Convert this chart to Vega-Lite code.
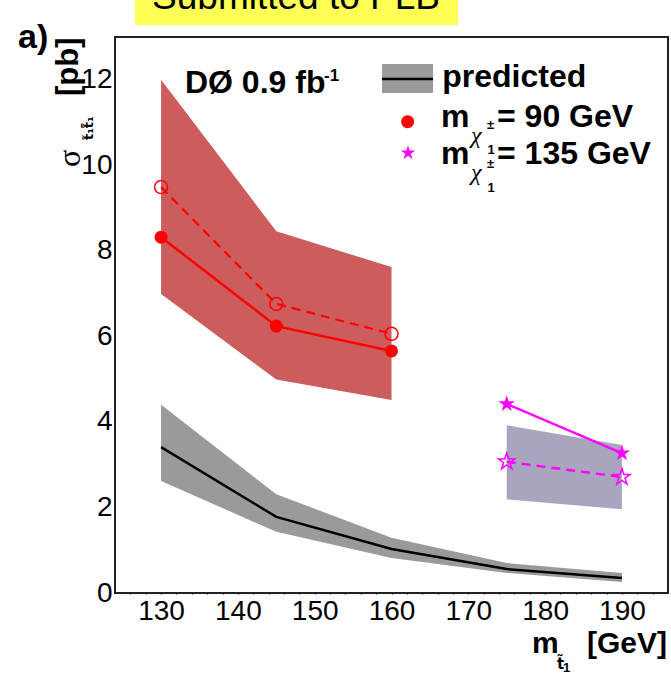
{
  "$schema": "https://vega.github.io/schema/vega-lite/v6.json",
  "width": 553,
  "height": 556,
  "autosize": {"type": "none"},
  "padding": {"left": 115, "top": 37, "right": 3, "bottom": 84},
  "background": "white",
  "config": {"view": {"stroke": "#222222", "strokeWidth": 2}, "font": "Liberation Sans"},
  "resolve": {"axis": {"x": "independent", "y": "independent"}},
  "datasets": {
    "series": [
      {"s": "pred", "x": 130, "a": 3.41, "lo": 2.62, "hi": 4.40},
      {"s": "pred", "x": 145, "a": 1.78, "lo": 1.43, "hi": 2.31},
      {"s": "pred", "x": 160, "a": 1.03, "lo": 0.82, "hi": 1.29},
      {"s": "pred", "x": 175, "a": 0.56, "lo": 0.47, "hi": 0.70},
      {"s": "pred", "x": 190, "a": 0.35, "lo": 0.26, "hi": 0.47},
      {"s": "c90", "x": 130, "a": 8.32, "b": 9.49, "lo": 6.99, "hi": 12.0},
      {"s": "c90", "x": 145, "a": 6.24, "b": 6.76, "lo": 4.99, "hi": 8.46},
      {"s": "c90", "x": 160, "a": 5.66, "b": 6.06, "lo": 4.51, "hi": 7.62},
      {"s": "c135", "x": 175, "a": 4.42, "b": 3.07, "lo": 2.19, "hi": 3.92},
      {"s": "c135", "x": 190, "a": 3.27, "b": 2.71, "lo": 1.96, "hi": 3.46}
    ],
    "legend": [
      {"item": "box", "x": 158.77, "x2": 165.41, "y": 11.69, "y2": 12.37},
      {"item": "line", "x": 158.77, "x2": 165.41, "y": 12.02},
      {"item": "c90", "x": 162.1, "y": 11.02},
      {"item": "c135", "x": 162.15, "y": 10.29},
      {"item": "stamp", "x": 126.6, "x2": 168.66, "y": 13.28, "y2": 14.6}
    ],
    "notes": [
      {"role": "big", "t": "predicted", "x": 166.6, "y": 11.83},
      {"role": "big", "t": "m", "x": 166.45, "y": 10.90},
      {"role": "big", "t": "m", "x": 166.45, "y": 10.03},
      {"role": "big", "t": "= 90 GeV", "x": 173.74, "y": 10.90},
      {"role": "big", "t": "= 135 GeV", "x": 173.74, "y": 10.03},
      {"role": "big", "t": "DØ 0.9 fb", "x": 133.11, "y": 11.69},
      {"role": "xtl", "t": "m", "x": 178.3, "y": -1.40},
      {"role": "xtr", "t": "[GeV]", "x": 195.875, "y": -1.40},
      {"role": "chi", "t": "χ", "x": 170.35, "y": 10.52},
      {"role": "chi", "t": "χ", "x": 170.35, "y": 9.66},
      {"role": "small", "t": "±", "x": 172.44, "y": 10.85},
      {"role": "small", "t": "±", "x": 172.44, "y": 9.94},
      {"role": "small", "t": "1", "x": 172.5, "y": 10.26},
      {"role": "small", "t": "1", "x": 172.5, "y": 9.38},
      {"role": "small", "t": "1", "x": 182.33, "y": -1.85},
      {"role": "sup", "t": "-1", "x": 151.21, "y": 11.97},
      {"role": "sub", "t": "t̃", "x": 181.55, "y": -1.78},
      {"role": "ytitle", "t": "[pb]", "x": 119.18, "y": 11.62},
      {"role": "ysigma", "t": "σ", "x": 119.44, "y": 9.96},
      {"role": "ysub", "t": "t̃₁t̃̄₁", "x": 121.14, "y": 10.59},
      {"role": "panel", "t": "a)", "x": 111.37, "y": 12.74},
      {"role": "stamp", "t": "Submitted to PLB", "x": 147.57, "y": 13.66}
    ]
  },
  "layer": [
    {
      "data": {"name": "series"},
      "transform": [{"filter": "datum.s === 'c90'"}],
      "mark": {"type": "area", "color": "#cd5c5c", "opacity": 1},
      "encoding": {
        "x": {"field": "x", "type": "quantitative", "scale": {"domain": [124, 196], "nice": false, "zero": false},
          "axis": {"orient": "bottom", "values": [130, 140, 150, 160, 170, 180, 190],
            "tickSize": 1,
            "encode": {"ticks": {"update": {"y2": {"value": -16}}}},
            "tickWidth": 1.5, "tickColor": "#222222", "domain": false, "grid": false, "labelFontSize": 28, "labelFont": "Liberation Sans", "labelColor": "black", "labelPadding": 3, "labelFlush": false, "labelOverlap": false, "title": null}},
        "y": {"field": "lo", "type": "quantitative", "scale": {"domain": [0, 13], "nice": false, "zero": false},
          "axis": {"orient": "left", "values": [0, 2, 4, 6, 8, 10, 12],
            "tickSize": 1,
            "encode": {"ticks": {"update": {"x2": {"value": 16}}}},
            "tickWidth": 1.5, "tickColor": "#222222", "domain": false, "grid": false, "labelFontSize": 28, "labelFont": "Liberation Sans", "labelColor": "black", "labelPadding": 2, "labelFlush": false, "labelOverlap": false, "title": null}},
        "y2": {"field": "hi"}
      }
    },
    {
      "data": {"name": "series"},
      "transform": [{"filter": "datum.s === 'c135'"}],
      "mark": {"type": "area", "color": "#a9a5bf", "opacity": 1},
      "encoding": {
        "x": {"field": "x", "type": "quantitative", "scale": {"domain": [124, 196], "nice": false, "zero": false},
          "axis": {"orient": "bottom", "values": [126, 128, 132, 134, 136, 138, 142, 144, 146, 148, 152, 154, 156, 158, 162, 164, 166, 168, 172, 174, 176, 178, 182, 184, 186, 188, 192, 194],
            "tickSize": 1,
            "encode": {"ticks": {"update": {"y2": {"value": -8}}}},
            "tickWidth": 1.5, "tickColor": "#222222", "labels": false, "domain": false, "grid": false, "title": null}},
        "y": {"field": "lo", "type": "quantitative", "scale": {"domain": [0, 13], "nice": false, "zero": false},
          "axis": {"orient": "left", "values": [0.5, 1, 1.5, 2.5, 3, 3.5, 4.5, 5, 5.5, 6.5, 7, 7.5, 8.5, 9, 9.5, 10.5, 11, 11.5, 12.5],
            "tickSize": 1,
            "encode": {"ticks": {"update": {"x2": {"value": 8}}}},
            "tickWidth": 1.5, "tickColor": "#222222", "labels": false, "domain": false, "grid": false, "title": null}},
        "y2": {"field": "hi"}
      }
    },
    {
      "data": {"name": "series"},
      "transform": [{"filter": "datum.s === 'pred'"}],
      "mark": {"type": "area", "color": "#9a9a9a", "opacity": 1},
      "encoding": {
        "x": {"field": "x", "type": "quantitative", "scale": {"domain": [124, 196], "nice": false, "zero": false}, "axis": null},
        "y": {"field": "lo", "type": "quantitative", "scale": {"domain": [0, 13], "nice": false, "zero": false}, "axis": null},
        "y2": {"field": "hi"}
      }
    },
    {
      "data": {"name": "series"},
      "transform": [{"filter": "datum.s === 'pred'"}],
      "mark": {"type": "line", "color": "black", "strokeWidth": 2.5},
      "encoding": {
        "x": {"field": "x", "type": "quantitative", "scale": {"domain": [124, 196], "nice": false, "zero": false}, "axis": null},
        "y": {"field": "a", "type": "quantitative", "scale": {"domain": [0, 13], "nice": false, "zero": false}, "axis": null}
      }
    },
    {
      "data": {"name": "series"},
      "transform": [{"filter": "datum.s === 'c90'"}],
      "mark": {"type": "line", "color": "#ff0000", "strokeWidth": 2.5},
      "encoding": {
        "x": {"field": "x", "type": "quantitative", "scale": {"domain": [124, 196], "nice": false, "zero": false}, "axis": null},
        "y": {"field": "a", "type": "quantitative", "scale": {"domain": [0, 13], "nice": false, "zero": false}, "axis": null}
      }
    },
    {
      "data": {"name": "series"},
      "transform": [{"filter": "datum.s === 'c90'"}],
      "mark": {"type": "line", "color": "#ff0000", "strokeWidth": 2.2, "strokeDash": [9, 6]},
      "encoding": {
        "x": {"field": "x", "type": "quantitative", "scale": {"domain": [124, 196], "nice": false, "zero": false}, "axis": null},
        "y": {"field": "b", "type": "quantitative", "scale": {"domain": [0, 13], "nice": false, "zero": false}, "axis": null}
      }
    },
    {
      "data": {"name": "series"},
      "transform": [{"filter": "datum.s === 'c135'"}],
      "mark": {"type": "line", "color": "#ff00ff", "strokeWidth": 2.5},
      "encoding": {
        "x": {"field": "x", "type": "quantitative", "scale": {"domain": [124, 196], "nice": false, "zero": false}, "axis": null},
        "y": {"field": "a", "type": "quantitative", "scale": {"domain": [0, 13], "nice": false, "zero": false}, "axis": null}
      }
    },
    {
      "data": {"name": "series"},
      "transform": [{"filter": "datum.s === 'c135'"}],
      "mark": {"type": "line", "color": "#ff00ff", "strokeWidth": 2.5, "strokeDash": [9, 6]},
      "encoding": {
        "x": {"field": "x", "type": "quantitative", "scale": {"domain": [124, 196], "nice": false, "zero": false}, "axis": null},
        "y": {"field": "b", "type": "quantitative", "scale": {"domain": [0, 13], "nice": false, "zero": false}, "axis": null}
      }
    },
    {
      "data": {"name": "series"},
      "transform": [{"filter": "datum.s === 'c90'"}],
      "mark": {"type": "point", "shape": "circle", "filled": true, "color": "#ff0000", "size": 169, "opacity": 1},
      "encoding": {
        "x": {"field": "x", "type": "quantitative", "scale": {"domain": [124, 196], "nice": false, "zero": false}, "axis": null},
        "y": {"field": "a", "type": "quantitative", "scale": {"domain": [0, 13], "nice": false, "zero": false}, "axis": null}
      }
    },
    {
      "data": {"name": "series"},
      "transform": [{"filter": "datum.s === 'c90'"}],
      "mark": {"type": "point", "shape": "circle", "filled": false, "color": "#ff0000", "strokeWidth": 1.5, "size": 169, "opacity": 1},
      "encoding": {
        "x": {"field": "x", "type": "quantitative", "scale": {"domain": [124, 196], "nice": false, "zero": false}, "axis": null},
        "y": {"field": "b", "type": "quantitative", "scale": {"domain": [0, 13], "nice": false, "zero": false}, "axis": null}
      }
    },
    {
      "data": {"name": "series"},
      "transform": [{"filter": "datum.s === 'c135'"}],
      "mark": {"type": "point", "shape": "M0,-1L0.2245,-0.309L0.951,-0.309L0.363,0.118L0.588,0.809L0,0.382L-0.588,0.809L-0.363,0.118L-0.951,-0.309L-0.2245,-0.309Z", "filled": true, "color": "#ff00ff", "size": 300, "opacity": 1},
      "encoding": {
        "x": {"field": "x", "type": "quantitative", "scale": {"domain": [124, 196], "nice": false, "zero": false}, "axis": null},
        "y": {"field": "a", "type": "quantitative", "scale": {"domain": [0, 13], "nice": false, "zero": false}, "axis": null}
      }
    },
    {
      "data": {"name": "series"},
      "transform": [{"filter": "datum.s === 'c135'"}],
      "mark": {"type": "point", "shape": "M0,-1L0.2245,-0.309L0.951,-0.309L0.363,0.118L0.588,0.809L0,0.382L-0.588,0.809L-0.363,0.118L-0.951,-0.309L-0.2245,-0.309Z", "filled": false, "color": "#ff00ff", "strokeWidth": 1.5, "size": 300, "opacity": 1},
      "encoding": {
        "x": {"field": "x", "type": "quantitative", "scale": {"domain": [124, 196], "nice": false, "zero": false}, "axis": null},
        "y": {"field": "b", "type": "quantitative", "scale": {"domain": [0, 13], "nice": false, "zero": false}, "axis": null}
      }
    },
    {
      "data": {"name": "legend"},
      "transform": [{"filter": "datum.item === 'box'"}],
      "mark": {"type": "rect", "color": "#9a9a9a"},
      "encoding": {
        "x": {"field": "x", "type": "quantitative", "scale": {"domain": [124, 196], "nice": false, "zero": false}, "axis": null},
        "x2": {"field": "x2"},
        "y": {"field": "y", "type": "quantitative", "scale": {"domain": [0, 13], "nice": false, "zero": false}, "axis": null},
        "y2": {"field": "y2"}
      }
    },
    {
      "data": {"name": "legend"},
      "transform": [{"filter": "datum.item === 'stamp'"}],
      "mark": {"type": "rect", "color": "#ffff55"},
      "encoding": {
        "x": {"field": "x", "type": "quantitative", "scale": {"domain": [124, 196], "nice": false, "zero": false}, "axis": null},
        "x2": {"field": "x2"},
        "y": {"field": "y", "type": "quantitative", "scale": {"domain": [0, 13], "nice": false, "zero": false}, "axis": null},
        "y2": {"field": "y2"}
      }
    },
    {
      "data": {"name": "legend"},
      "transform": [{"filter": "datum.item === 'line'"}],
      "mark": {"type": "rule", "color": "black", "strokeWidth": 2.5},
      "encoding": {
        "x": {"field": "x", "type": "quantitative", "scale": {"domain": [124, 196], "nice": false, "zero": false}, "axis": null},
        "x2": {"field": "x2"},
        "y": {"field": "y", "type": "quantitative", "scale": {"domain": [0, 13], "nice": false, "zero": false}, "axis": null}
      }
    },
    {
      "data": {"name": "legend"},
      "transform": [{"filter": "datum.item === 'c90'"}],
      "mark": {"type": "point", "shape": "circle", "filled": true, "color": "#ff0000", "size": 169, "opacity": 1},
      "encoding": {
        "x": {"field": "x", "type": "quantitative", "scale": {"domain": [124, 196], "nice": false, "zero": false}, "axis": null},
        "y": {"field": "y", "type": "quantitative", "scale": {"domain": [0, 13], "nice": false, "zero": false}, "axis": null}
      }
    },
    {
      "data": {"name": "legend"},
      "transform": [{"filter": "datum.item === 'c135'"}],
      "mark": {"type": "point", "shape": "M0,-1L0.2245,-0.309L0.951,-0.309L0.363,0.118L0.588,0.809L0,0.382L-0.588,0.809L-0.363,0.118L-0.951,-0.309L-0.2245,-0.309Z", "filled": true, "color": "#ff00ff", "size": 230, "opacity": 1},
      "encoding": {
        "x": {"field": "x", "type": "quantitative", "scale": {"domain": [124, 196], "nice": false, "zero": false}, "axis": null},
        "y": {"field": "y", "type": "quantitative", "scale": {"domain": [0, 13], "nice": false, "zero": false}, "axis": null}
      }
    },
    {
      "data": {"name": "notes"},
      "transform": [{"filter": "datum.role === 'big'"}],
      "mark": {"type": "text", "align": "left", "baseline": "alphabetic", "font": "Liberation Sans", "fontWeight": "bold", "fontSize": 32, "color": "black"},
      "encoding": {
        "x": {"field": "x", "type": "quantitative", "scale": {"domain": [124, 196], "nice": false, "zero": false}, "axis": null},
        "y": {"field": "y", "type": "quantitative", "scale": {"domain": [0, 13], "nice": false, "zero": false}, "axis": null},
        "text": {"field": "t"}
      }
    },
    {
      "data": {"name": "notes"},
      "transform": [{"filter": "datum.role === 'xtl'"}],
      "mark": {"type": "text", "align": "left", "baseline": "alphabetic", "font": "Liberation Sans", "fontWeight": "bold", "fontSize": 30, "color": "black"},
      "encoding": {
        "x": {"field": "x", "type": "quantitative", "scale": {"domain": [124, 196], "nice": false, "zero": false}, "axis": null},
        "y": {"field": "y", "type": "quantitative", "scale": {"domain": [0, 13], "nice": false, "zero": false}, "axis": null},
        "text": {"field": "t"}
      }
    },
    {
      "data": {"name": "notes"},
      "transform": [{"filter": "datum.role === 'xtr'"}],
      "mark": {"type": "text", "align": "right", "baseline": "alphabetic", "font": "Liberation Sans", "fontWeight": "bold", "fontSize": 30, "color": "black"},
      "encoding": {
        "x": {"field": "x", "type": "quantitative", "scale": {"domain": [124, 196], "nice": false, "zero": false}, "axis": null},
        "y": {"field": "y", "type": "quantitative", "scale": {"domain": [0, 13], "nice": false, "zero": false}, "axis": null},
        "text": {"field": "t"}
      }
    },
    {
      "data": {"name": "notes"},
      "transform": [{"filter": "datum.role === 'chi'"}],
      "mark": {"type": "text", "align": "left", "baseline": "alphabetic", "font": "Liberation Serif", "fontStyle": "italic", "fontSize": 24, "color": "black"},
      "encoding": {
        "x": {"field": "x", "type": "quantitative", "scale": {"domain": [124, 196], "nice": false, "zero": false}, "axis": null},
        "y": {"field": "y", "type": "quantitative", "scale": {"domain": [0, 13], "nice": false, "zero": false}, "axis": null},
        "text": {"field": "t"}
      }
    },
    {
      "data": {"name": "notes"},
      "transform": [{"filter": "datum.role === 'small'"}],
      "mark": {"type": "text", "align": "left", "baseline": "alphabetic", "font": "Liberation Sans", "fontWeight": "bold", "fontSize": 13, "color": "black"},
      "encoding": {
        "x": {"field": "x", "type": "quantitative", "scale": {"domain": [124, 196], "nice": false, "zero": false}, "axis": null},
        "y": {"field": "y", "type": "quantitative", "scale": {"domain": [0, 13], "nice": false, "zero": false}, "axis": null},
        "text": {"field": "t"}
      }
    },
    {
      "data": {"name": "notes"},
      "transform": [{"filter": "datum.role === 'sup'"}],
      "mark": {"type": "text", "align": "left", "baseline": "alphabetic", "font": "Liberation Sans", "fontWeight": "bold", "fontSize": 17, "color": "black"},
      "encoding": {
        "x": {"field": "x", "type": "quantitative", "scale": {"domain": [124, 196], "nice": false, "zero": false}, "axis": null},
        "y": {"field": "y", "type": "quantitative", "scale": {"domain": [0, 13], "nice": false, "zero": false}, "axis": null},
        "text": {"field": "t"}
      }
    },
    {
      "data": {"name": "notes"},
      "transform": [{"filter": "datum.role === 'sub'"}],
      "mark": {"type": "text", "align": "left", "baseline": "alphabetic", "font": "DejaVu Sans", "fontWeight": "bold", "fontSize": 15, "color": "black"},
      "encoding": {
        "x": {"field": "x", "type": "quantitative", "scale": {"domain": [124, 196], "nice": false, "zero": false}, "axis": null},
        "y": {"field": "y", "type": "quantitative", "scale": {"domain": [0, 13], "nice": false, "zero": false}, "axis": null},
        "text": {"field": "t"}
      }
    },
    {
      "data": {"name": "notes"},
      "transform": [{"filter": "datum.role === 'ytitle'"}],
      "mark": {"type": "text", "align": "left", "baseline": "alphabetic", "angle": 270, "font": "Liberation Sans", "fontWeight": "bold", "fontSize": 31, "color": "black"},
      "encoding": {
        "x": {"field": "x", "type": "quantitative", "scale": {"domain": [124, 196], "nice": false, "zero": false}, "axis": null},
        "y": {"field": "y", "type": "quantitative", "scale": {"domain": [0, 13], "nice": false, "zero": false}, "axis": null},
        "text": {"field": "t"}
      }
    },
    {
      "data": {"name": "notes"},
      "transform": [{"filter": "datum.role === 'ysigma'"}],
      "mark": {"type": "text", "align": "left", "baseline": "alphabetic", "angle": 270, "font": "Liberation Serif", "fontSize": 32, "color": "black"},
      "encoding": {
        "x": {"field": "x", "type": "quantitative", "scale": {"domain": [124, 196], "nice": false, "zero": false}, "axis": null},
        "y": {"field": "y", "type": "quantitative", "scale": {"domain": [0, 13], "nice": false, "zero": false}, "axis": null},
        "text": {"field": "t"}
      }
    },
    {
      "data": {"name": "notes"},
      "transform": [{"filter": "datum.role === 'ysub'"}],
      "mark": {"type": "text", "align": "left", "baseline": "alphabetic", "angle": 270, "font": "DejaVu Sans", "fontWeight": "bold", "fontSize": 13, "color": "black"},
      "encoding": {
        "x": {"field": "x", "type": "quantitative", "scale": {"domain": [124, 196], "nice": false, "zero": false}, "axis": null},
        "y": {"field": "y", "type": "quantitative", "scale": {"domain": [0, 13], "nice": false, "zero": false}, "axis": null},
        "text": {"field": "t"}
      }
    },
    {
      "data": {"name": "notes"},
      "transform": [{"filter": "datum.role === 'panel'"}],
      "mark": {"type": "text", "align": "left", "baseline": "alphabetic", "font": "Liberation Sans", "fontWeight": "bold", "fontSize": 34, "color": "black"},
      "encoding": {
        "x": {"field": "x", "type": "quantitative", "scale": {"domain": [124, 196], "nice": false, "zero": false}, "axis": null},
        "y": {"field": "y", "type": "quantitative", "scale": {"domain": [0, 13], "nice": false, "zero": false}, "axis": null},
        "text": {"field": "t"}
      }
    },
    {
      "data": {"name": "notes"},
      "transform": [{"filter": "datum.role === 'stamp'"}],
      "mark": {"type": "text", "align": "center", "baseline": "alphabetic", "font": "Liberation Sans", "fontSize": 37, "color": "black"},
      "encoding": {
        "x": {"field": "x", "type": "quantitative", "scale": {"domain": [124, 196], "nice": false, "zero": false}, "axis": null},
        "y": {"field": "y", "type": "quantitative", "scale": {"domain": [0, 13], "nice": false, "zero": false}, "axis": null},
        "text": {"field": "t"}
      }
    }
  ]
}
